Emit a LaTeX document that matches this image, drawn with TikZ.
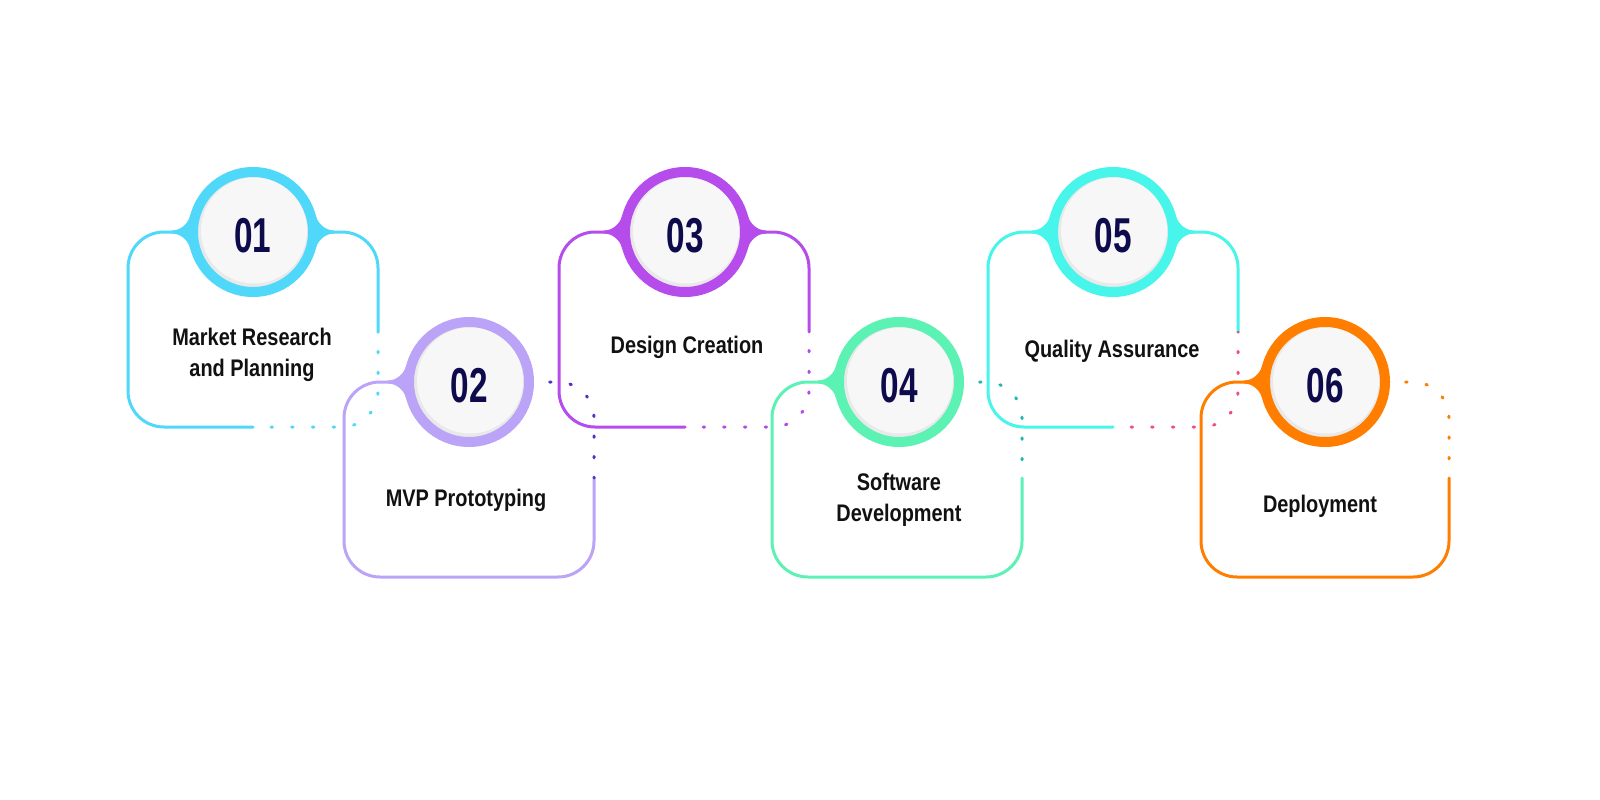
\documentclass[tikz,border=0pt]{standalone}
\usepackage{fontspec}
\newfontfamily\labfont{Liberation Sans}[FakeStretch=0.83]
\newfontfamily\numfont{Liberation Sans}[FakeStretch=0.68]
\definecolor{c1}{HTML}{4FD8FA}
\definecolor{c2}{HTML}{BBA3F8}
\definecolor{c3}{HTML}{B64CEC}
\definecolor{c4}{HTML}{5CF2B4}
\definecolor{c5}{HTML}{47F5EA}
\definecolor{c6}{HTML}{FF7E00}
\definecolor{d1}{HTML}{4FD8FA}
\definecolor{d2}{HTML}{5630C8}
\definecolor{d3}{HTML}{B24AEA}
\definecolor{d4}{HTML}{22B8AA}
\definecolor{d5}{HTML}{F04D86}
\definecolor{d6}{HTML}{FF7E00}
\definecolor{navy}{HTML}{0E0B4C}
\definecolor{ink}{HTML}{111111}
\definecolor{disk}{HTML}{F7F7F7}
\definecolor{diskshade}{HTML}{E9E9E9}
\tikzset{
  frame/.style={line width=3pt, line cap=round, rounded corners=36pt},
  dotline/.style={line width=3pt, line cap=round, rounded corners=36pt, dash pattern=on 1.5pt off 19.2pt},
  ring/.style={circle, minimum size=120pt, line width=10pt, draw=#1, fill=diskshade, inner sep=0pt},
  num/.style={font=\numfont\bfseries\fontsize{49}{49}\selectfont, text=navy, anchor=base, inner sep=0pt},
  lab/.style={font=\labfont\bfseries\fontsize{24}{31}\selectfont, text=ink, align=center, anchor=base, inner sep=0pt},
}
\newcommand\filletL[3]{\fill[#3,shift={(#1,#2)}] (-81,-1.5) .. controls (-72,-1.5) and (-64.8,-8.9) .. (-63.1,-15.7) -- (0,0) -- (-63.1,15.7) .. controls (-64.8,8.9) and (-72,1.5) .. (-81,1.5) -- cycle;}
\newcommand\filletR[3]{\fill[#3,shift={(#1,#2)},xscale=-1] (-81,-1.5) .. controls (-72,-1.5) and (-64.8,-8.9) .. (-63.1,-15.7) -- (0,0) -- (-63.1,15.7) .. controls (-64.8,8.9) and (-72,1.5) .. (-81,1.5) -- cycle;}
\newcommand\diskface[2]{\fill[disk] ([shift={(1,-1.5)}]#1) circle (53);}
\begin{document}
\begin{tikzpicture}[x=1pt,y=-1pt]
\fill[white] (0,0) rectangle (1600,800);
\useasboundingbox (0,0) rectangle (1600,800);
% ---- card outlines (top row: 1,3,5; bottom row: 2,4,6)
% card 1
\draw[frame,c1] (378,332) -- (378,232) -- (128,232) -- (128,427) -- (253,427);
\draw[dotline,d1,dash phase=2.7pt] (253,427) -- (378,427) -- (378,332);
% card 2
\draw[frame,c2] (594,478) -- (594,577) -- (344,577) -- (344,382) -- (469,382);
\draw[dotline,d2,dash phase=5.2pt] (534,382) -- (594,382) -- (594,478);
% card 3
\draw[frame,c3] (809,332) -- (809,232) -- (559,232) -- (559,427) -- (685,427);
\draw[dotline,d3,dash phase=2.7pt] (685,427) -- (809,427) -- (809,332);
% card 4
\draw[frame,c4] (1022,478) -- (1022,577) -- (772,577) -- (772,382) -- (899,382);
\draw[dotline,d4,dash phase=5.2pt] (964,382) -- (1022,382) -- (1022,478);
% card 5
\draw[frame,c5] (1238,332) -- (1238,232) -- (988,232) -- (988,427) -- (1113,427);
\draw[dotline,d5,dash phase=2.7pt] (1113,427) -- (1238,427) -- (1238,332);
% card 6
\draw[frame,c6] (1449,478) -- (1449,577) -- (1201,577) -- (1201,382) -- (1325,382);
\draw[dotline,d6,dash phase=5.2pt] (1390,382) -- (1449,382) -- (1449,478);
% ---- fillets
\filletL{253}{232}{c1}\filletR{253}{232}{c1}
\filletL{469}{382}{c2}
\filletL{685}{232}{c3}\filletR{685}{232}{c3}
\filletL{899}{382}{c4}
\filletL{1113}{232}{c5}\filletR{1113}{232}{c5}
\filletL{1325}{382}{c6}
% ---- number rings
\node[ring=c1] (k1) at (253,232) {};
\node[ring=c2] (k2) at (469,382) {};
\node[ring=c3] (k3) at (685,232) {};
\node[ring=c4] (k4) at (899,382) {};
\node[ring=c5] (k5) at (1113,232) {};
\node[ring=c6] (k6) at (1325,382) {};
\diskface{k1}{}\diskface{k2}{}\diskface{k3}{}\diskface{k4}{}\diskface{k5}{}\diskface{k6}{}
\node[num] (n1) at (253,252) {01};
\node[num] (n2) at (469,402) {02};
\node[num] (n3) at (685,252) {03};
\node[num] (n4) at (899,402) {04};
\node[num] (n5) at (1113,252) {05};
\node[num] (n6) at (1325,402) {06};
% ---- labels
\node[lab] (t1) at (252,376) {Market Research\\and Planning};
\node[lab] (t2) at (466,506) {MVP Prototyping};
\node[lab] (t3) at (687,353) {Design Creation};
\node[lab] (t4) at (899,521) {Software\\Development};
\node[lab] (t5) at (1112,357) {Quality Assurance};
\node[lab] (t6) at (1320,512) {Deployment};
\end{tikzpicture}
\end{document}
